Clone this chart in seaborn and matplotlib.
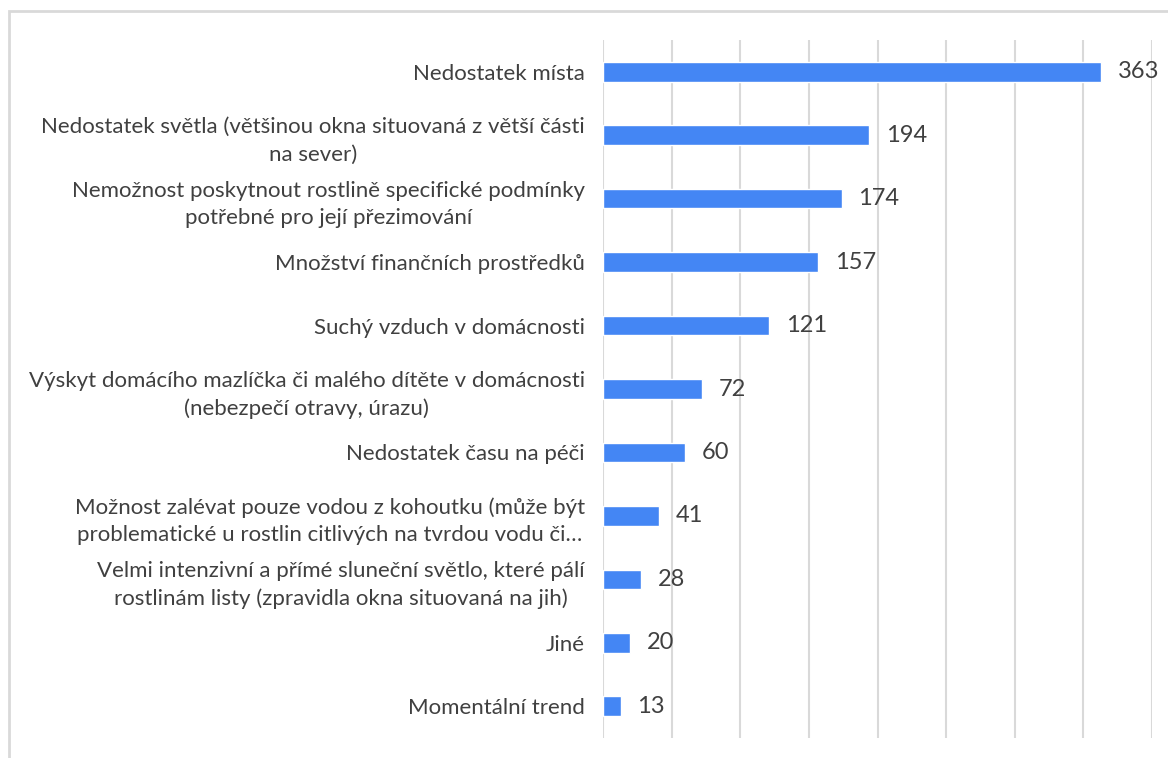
import matplotlib
matplotlib.use("Agg")
import matplotlib.pyplot as plt
from matplotlib.patches import Rectangle
import seaborn as sns
import pandas as pd

categories = [
    "Nedostatek místa",
    "Nedostatek světla (většinou okna situovaná z větší části\nna sever)",
    "Nemožnost poskytnout rostlině specifické podmínky\npotřebné pro její přezimování",
    "Množství finančních prostředků",
    "Suchý vzduch v domácnosti",
    "Výskyt domácího mazlíčka či malého dítěte v domácnosti\n(nebezpečí otravy, úrazu)",
    "Nedostatek času na péči",
    "Možnost zalévat pouze vodou z kohoutku (může být\nproblematické u rostlin citlivých na tvrdou vodu či…",
    "Velmi intenzivní a přímé sluneční světlo, které pálí\nrostlinám listy (zpravidla okna situovaná na jih)",
    "Jiné",
    "Momentální trend",
]
counts = [363, 194, 174, 157, 121, 72, 60, 41, 28, 20, 13]

df = pd.DataFrame({"kategorie": categories, "pocet": counts})

sns.set_theme(style="white")
plt.rcParams["font.family"] = ["Lato", "DejaVu Sans"]

text_color = "#404040"
grid_color = "#d9d9d9"
bar_color = "#4486F4"

W, H = 1168, 758
fig = plt.figure(figsize=(W / 100, H / 100), dpi=100)
ax = fig.add_axes([603 / W, (H - 738) / H, (1152 - 603) / W, (738 - 40) / H])

sns.barplot(data=df, x="pocet", y="kategorie", orient="h", color=bar_color,
            width=0.31, saturation=1, ax=ax, zorder=3)

ax.set_xlim(0, 400)
ax.set_ylim(len(categories) - 0.5, -0.5)
ax.set_xticks(range(0, 401, 50))
ax.set_xticklabels([])
ax.tick_params(axis="x", length=0)
ax.tick_params(axis="y", length=0, pad=13)
ax.grid(axis="x", color=grid_color, linewidth=1.5, zorder=0)
ax.grid(axis="y", visible=False)
for s in ax.spines.values():
    s.set_visible(False)
ax.set_xlabel("")
ax.set_ylabel("")

for lbl in ax.get_yticklabels():
    lbl.set_fontsize(16)
    lbl.set_color(text_color)
    lbl.set_horizontalalignment("right")
    lbl.set_multialignment("center")
    lbl.set_linespacing(1.45)

ax.bar_label(ax.containers[0], labels=[str(v) for v in counts], padding=12,
             fontsize=17, color=text_color)

# outer chart frame
fig.patches.append(Rectangle((9 / W, -0.1), 1.2, (H - 11) / H + 0.1,
                             transform=fig.transFigure, fill=False,
                             edgecolor=grid_color, linewidth=2, zorder=0))

fig.savefig("out.png", dpi=100, facecolor="white")
